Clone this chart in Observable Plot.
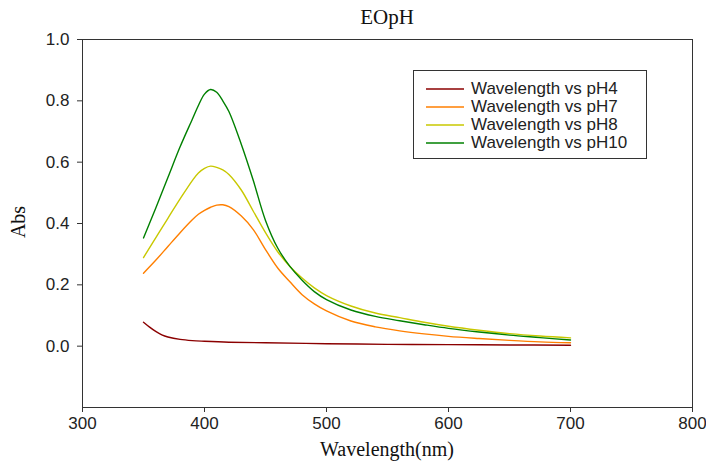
<!DOCTYPE html>
<html>
<head>
<meta charset="utf-8">
<script src="https://cdn.jsdelivr.net/npm/d3@7"></script>
<script src="https://cdn.jsdelivr.net/npm/@observablehq/plot@0.6"></script>
<style>
  body { margin: 0; background: #fff; }
  #wrap { position: relative; width: 706px; height: 466px; overflow: hidden; }
  #title { height: 30px; width: 706px; font-family: "Liberation Serif", "Times New Roman", serif; font-size: 21px; line-height: 30px; color: #111; }
  #title span { position: absolute; left: 387px; top: 2px; transform: translateX(-50%); }
  .axlabel { position: absolute; font-family: "Liberation Serif", "Times New Roman", serif; font-size: 20px; color: #111; white-space: nowrap; }
  #legend { position: absolute; left: 413px; top: 70px; width: 232px; height: 87px; border: 1px solid #333; background: #fff; font-family: "Liberation Sans", Arial, sans-serif; font-size: 17px; color: #222; }
  .row { position: absolute; left: 12px; height: 17px; line-height: 17px; display: flex; align-items: center; white-space: nowrap; }
  .row svg { margin-right: 7px; }
  #chart svg { overflow: visible; }
</style>
</head>
<body>
<div id="wrap">
  <div id="title"><span>EOpH</span></div>
  <div id="chart"></div>
  <div class="axlabel" id="xlab" style="left:387px; top:438px; transform:translateX(-50%);">Wavelength(nm)</div>
  <div class="axlabel" id="ylab" style="left:18px; top:222px; transform:translate(-50%,-50%) rotate(-90deg);">Abs</div>
  <div id="legend"></div>
</div>
<script>
// Data
const seriesNames = ["Wavelength vs pH4", "Wavelength vs pH7", "Wavelength vs pH8", "Wavelength vs pH10"];
const seriesColors = ["#8B0000", "#FF7F00", "#C8C800", "#008000"];

const wavelength = [350,360,370,380,390,395,400,405,410,415,420,430,440,450,460,470,480,490,500,520,540,560,580,600,625,650,675,700];
const pH10 = [0.353,0.45,0.55,0.65,0.74,0.785,0.822,0.837,0.828,0.80,0.765,0.66,0.54,0.41,0.32,0.26,0.215,0.178,0.152,0.118,0.097,0.083,0.07,0.058,0.046,0.036,0.028,0.02];
const pH8  = [0.289,0.353,0.417,0.48,0.54,0.565,0.58,0.587,0.583,0.575,0.56,0.51,0.44,0.37,0.308,0.26,0.222,0.19,0.165,0.131,0.108,0.093,0.078,0.065,0.052,0.041,0.033,0.027];
const pH7  = [0.238,0.28,0.325,0.37,0.412,0.43,0.443,0.453,0.46,0.461,0.455,0.425,0.38,0.315,0.255,0.21,0.168,0.138,0.115,0.082,0.063,0.05,0.04,0.032,0.025,0.019,0.014,0.011];

const wavelengthPH4 = [350,355,360,365,370,380,390,400,420,450,500,550,600,650,700];
const pH4 = [0.078,0.062,0.048,0.037,0.03,0.022,0.018,0.016,0.013,0.011,0.008,0.006,0.005,0.004,0.003];

const xTicks = [300,400,500,600,700,800];
const yTicks = [0.0,0.2,0.4,0.6,0.8,1.0];

const rows = [];
pH4.forEach((v,i) => rows.push({series: seriesNames[0], x: wavelengthPH4[i], y: v}));
pH7.forEach((v,i) => rows.push({series: seriesNames[1], x: wavelength[i], y: v}));
pH8.forEach((v,i) => rows.push({series: seriesNames[2], x: wavelength[i], y: v}));
pH10.forEach((v,i) => rows.push({series: seriesNames[3], x: wavelength[i], y: v}));

const chart = Plot.plot({
  width: 706,
  height: 436,
  marginLeft: 82,
  marginRight: 14,
  marginTop: 9,
  marginBottom: 59,
  style: {fontFamily: "'Liberation Sans', Arial, sans-serif", fontSize: "17px", color: "#222", background: "#fff", overflow: "visible"},
  x: {domain: [300, 800], ticks: xTicks, label: null},
  y: {domain: [-0.2, 1.0], ticks: yTicks, label: null},
  color: {domain: seriesNames, range: seriesColors},
  marks: [
    Plot.frame({stroke: "#333", strokeWidth: 1}),
    Plot.axisX({ticks: xTicks, tickSize: 5, tickPadding: 4, fontSize: 17, label: null, stroke: "#333"}),
    Plot.axisY({ticks: yTicks, tickSize: 5, tickPadding: 8, fontSize: 17, tickFormat: d3.format(".1f"), label: null, stroke: "#333"}),
    Plot.line(rows, {x: "x", y: "y", z: "series", stroke: "series", strokeWidth: 1.4, curve: "catmull-rom"})
  ]
});
document.getElementById("chart").appendChild(chart);

// legend
const legend = document.getElementById("legend");
const rowTops = [9, 27, 45, 63];
seriesNames.forEach((name, i) => {
  const r = document.createElement("div");
  r.className = "row";
  r.style.top = rowTops[i] + "px";
  r.innerHTML = `<svg width="38" height="4"><line x1="0" x2="38" y1="2" y2="2" stroke="${seriesColors[i]}" stroke-width="1.4"/></svg><span>${name}</span>`;
  legend.appendChild(r);
});
</script>
</body>
</html>
